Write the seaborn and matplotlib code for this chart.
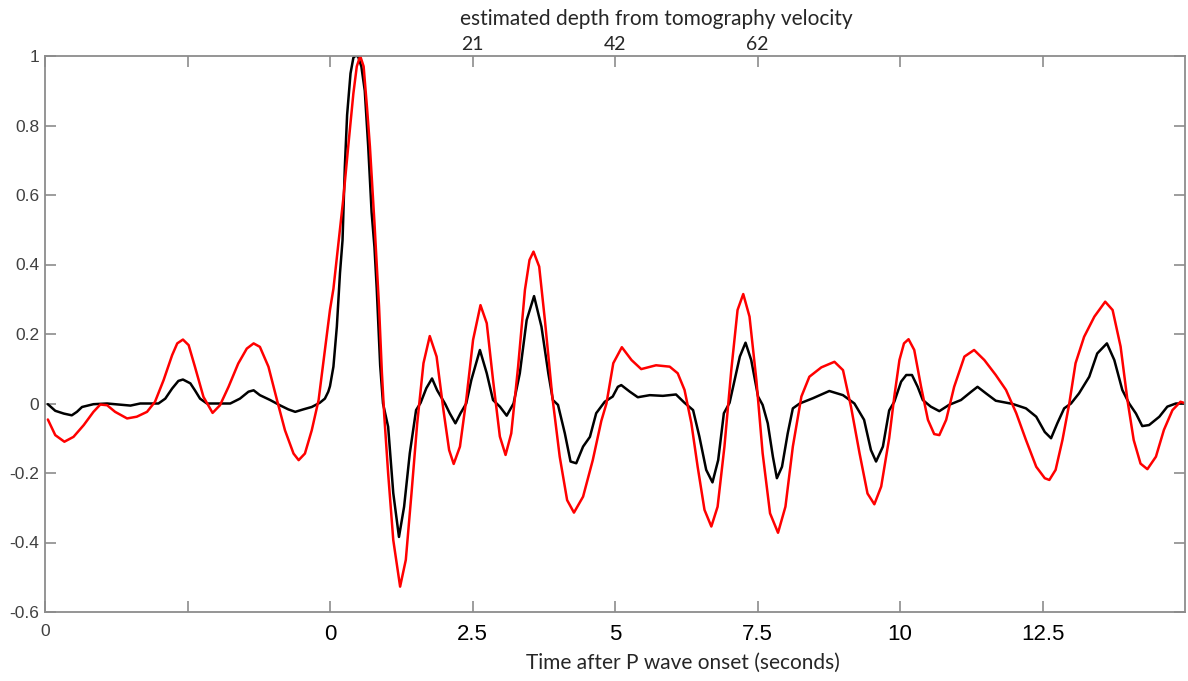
import numpy as np
import pandas as pd
import matplotlib
matplotlib.use("Agg")
import matplotlib.pyplot as plt
import seaborn as sns

# time after P onset (s) and amplitude
t_black = [-4.95, -4.82, -4.67, -4.53, -4.44, -4.35, -4.15, -3.91, -3.50, -3.33, -3.01, -2.89,
           -2.77, -2.66, -2.58, -2.45, -2.37, -2.28, -2.16, -1.75, -1.58, -1.43, -1.34, -1.23,
           -1.05, -0.88, -0.73, -0.61, -0.47, -0.32, -0.18, -0.09, -0.03, 0.0, 0.06, 0.12,
           0.175, 0.22, 0.26, 0.30, 0.36, 0.41, 0.44, 0.49, 0.55, 0.61, 0.67, 0.73, 0.78, 0.82,
           0.88, 0.93, 1.02, 1.11, 1.21, 1.30, 1.40, 1.51, 1.59, 1.69, 1.79, 1.88, 2.02, 2.10,
           2.20, 2.29, 2.39, 2.48, 2.63, 2.75, 2.86, 2.98, 3.10, 3.22, 3.33, 3.45, 3.58, 3.71,
           3.83, 3.91, 4.00, 4.12, 4.22, 4.32, 4.44, 4.56, 4.67, 4.82, 4.96, 5.05, 5.11, 5.26,
           5.40, 5.61, 5.84, 6.07, 6.22, 6.37, 6.48, 6.60, 6.71, 6.81, 6.91, 7.01, 7.10, 7.19,
           7.29, 7.39, 7.51, 7.59, 7.68, 7.77, 7.84, 7.93, 8.03, 8.12, 8.24, 8.47, 8.76, 9.00,
           9.20, 9.37, 9.49, 9.58, 9.70, 9.81, 9.90, 10.02, 10.11, 10.21, 10.31, 10.40, 10.54,
           10.69, 10.86, 11.07, 11.25, 11.36, 11.51, 11.68, 11.97, 12.21, 12.39, 12.54, 12.65,
           12.76, 12.88, 13.00, 13.14, 13.32, 13.46, 13.63, 13.76, 13.90, 14.02, 14.14, 14.25,
           14.37, 14.55, 14.69, 14.84, 14.98]
a_black = [-0.002, -0.021, -0.029, -0.034, -0.024, -0.010, -0.002, 0.0, -0.006, 0.0, 0.0, 0.014,
           0.043, 0.065, 0.069, 0.058, 0.038, 0.014, 0.0, 0.0, 0.014, 0.034, 0.038, 0.024,
           0.010, -0.005, -0.017, -0.024, -0.017, -0.010, 0.002, 0.014, 0.034, 0.05, 0.106, 0.221,
           0.375, 0.47, 0.68, 0.83, 0.95, 0.995, 1.0, 1.0, 0.97, 0.90, 0.74, 0.55, 0.45, 0.33,
           0.11, 0.0, -0.067, -0.258, -0.384, -0.297, -0.143, -0.019, 0.002, 0.044, 0.072, 0.038,
           -0.001, -0.028, -0.057, -0.028, 0.0, 0.068, 0.154, 0.087, 0.01, -0.009, -0.035, 0.0,
           0.087, 0.24, 0.309, 0.221, 0.087, 0.01, -0.004, -0.086, -0.167, -0.172, -0.124,
           -0.096, -0.028, 0.005, 0.02, 0.048, 0.053, 0.034, 0.018, 0.024, 0.022, 0.026, 0.002,
           -0.019, -0.095, -0.191, -0.227, -0.163, -0.028, 0.002, 0.068, 0.135, 0.175, 0.125,
           0.02, -0.004, -0.057, -0.153, -0.215, -0.182, -0.086, -0.014, 0.0, 0.015, 0.036,
           0.024, 0.0, -0.047, -0.134, -0.167, -0.124, -0.02, 0.005, 0.063, 0.082, 0.082, 0.048,
           0.01, -0.009, -0.022, -0.004, 0.01, 0.034, 0.048, 0.029, 0.008, -0.001, -0.014,
           -0.038, -0.082, -0.1, -0.057, -0.014, 0.0, 0.029, 0.077, 0.144, 0.173, 0.125, 0.039,
           0.0, -0.029, -0.065, -0.062, -0.038, -0.009, 0.0, 0.0]

t_red = [-4.95, -4.82, -4.66, -4.50, -4.32, -4.15, -4.03, -3.91, -3.77, -3.56, -3.39, -3.21,
         -3.07, -2.92, -2.77, -2.68, -2.58, -2.48, -2.37, -2.22, -2.06, -1.93, -1.78, -1.61,
         -1.46, -1.34, -1.23, -1.08, -0.93, -0.79, -0.64, -0.55, -0.44, -0.32, -0.20, -0.09,
         0.0, 0.06, 0.14, 0.23, 0.32, 0.41, 0.47, 0.53, 0.59, 0.65, 0.70, 0.78, 0.86, 0.91,
         0.95, 1.02, 1.11, 1.23, 1.33, 1.43, 1.53, 1.64, 1.75, 1.87, 1.99, 2.09, 2.17, 2.28,
         2.39, 2.51, 2.64, 2.75, 2.86, 2.98, 3.08, 3.18, 3.30, 3.42, 3.50, 3.57, 3.67, 3.77,
         3.90, 4.03, 4.16, 4.28, 4.44, 4.61, 4.76, 4.85, 4.97, 5.12, 5.29, 5.46, 5.72, 5.96,
         6.10, 6.22, 6.34, 6.45, 6.57, 6.69, 6.80, 6.92, 7.04, 7.15, 7.25, 7.36, 7.48, 7.59,
         7.72, 7.86, 7.99, 8.12, 8.27, 8.41, 8.62, 8.85, 9.00, 9.14, 9.29, 9.43, 9.55, 9.67,
         9.81, 9.90, 9.99, 10.07, 10.15, 10.25, 10.37, 10.49, 10.60, 10.69, 10.81, 10.95, 11.13,
         11.30, 11.48, 11.68, 11.86, 12.04, 12.21, 12.39, 12.54, 12.62, 12.73, 12.85, 12.97,
         13.08, 13.23, 13.41, 13.60, 13.73, 13.87, 13.99, 14.10, 14.22, 14.34, 14.49, 14.63,
         14.78, 14.92, 14.98]
a_red = [-0.046, -0.091, -0.110, -0.096, -0.062, -0.024, -0.003, -0.005, -0.024, -0.043, -0.038,
         -0.024, 0.005, 0.067, 0.139, 0.173, 0.184, 0.168, 0.106, 0.019, -0.027, -0.005, 0.048,
         0.115, 0.158, 0.173, 0.163, 0.106, 0.010, -0.077, -0.144, -0.163, -0.144, -0.077,
         0.010, 0.153, 0.27, 0.33, 0.45, 0.584, 0.74, 0.892, 0.97, 1.0, 0.97, 0.85, 0.74, 0.52,
         0.28, 0.09, -0.03, -0.201, -0.393, -0.527, -0.45, -0.258, -0.057, 0.116, 0.194, 0.135,
         -0.019, -0.134, -0.174, -0.124, 0.01, 0.183, 0.283, 0.231, 0.068, -0.095, -0.148,
         -0.086, 0.106, 0.327, 0.413, 0.437, 0.394, 0.24, 0.02, -0.153, -0.278, -0.314, -0.268,
         -0.163, -0.05, 0.0, 0.116, 0.162, 0.125, 0.099, 0.110, 0.106, 0.087, 0.039, -0.057,
         -0.182, -0.306, -0.354, -0.297, -0.124, 0.096, 0.269, 0.315, 0.25, 0.068, -0.143,
         -0.316, -0.372, -0.297, -0.124, 0.02, 0.077, 0.104, 0.12, 0.096, -0.009, -0.143, -0.259,
         -0.29, -0.239, -0.1, 0.02, 0.125, 0.173, 0.185, 0.154, 0.048, -0.047, -0.088, -0.091,
         -0.047, 0.048, 0.135, 0.154, 0.125, 0.082, 0.039, -0.028, -0.105, -0.182, -0.215,
         -0.22, -0.191, -0.105, 0.0, 0.116, 0.192, 0.25, 0.293, 0.269, 0.164, 0.01, -0.105,
         -0.173, -0.189, -0.153, -0.076, -0.019, 0.005, 0.002]

x_ticks = [-5, -2.5, 0, 2.5, 5, 7.5, 10, 12.5]
x_ticklabels = ["0", "", "0", "2.5", "5", "7.5", "10", "12.5"]
depth_ticklabels = ["", "", "", "21", "42", "62", "", ""]
y_ticks = [-0.6, -0.4, -0.2, 0, 0.2, 0.4, 0.6, 0.8, 1]
y_ticklabels = ["-0.6", "-0.4", "-0.2", "0", "0.2", "0.4", "0.6", "0.8", "1"]

black_df = pd.DataFrame({"t": t_black, "amp": a_black})
red_df = pd.DataFrame({"t": t_red, "amp": a_red})

sns.set_style("white")
plt.rcParams["font.family"] = ["Liberation Sans", "DejaVu Sans"]

fig = plt.figure(figsize=(11.88, 6.81), dpi=100)
ax = fig.add_axes([45 / 1188, 1 - 612 / 681, 1140 / 1188, 556 / 681])

sns.lineplot(data=black_df, x="t", y="amp", ax=ax, color="black", lw=1.8,
             sort=False, estimator=None)
sns.lineplot(data=red_df, x="t", y="amp", ax=ax, color="#ff0000", lw=1.8,
             sort=False, estimator=None)

ax.set_xlim(-5, 15)
ax.set_ylim(-0.6, 1)
spine_col = "#8c8c8c"
for s in ax.spines.values():
    s.set_color(spine_col)
    s.set_linewidth(1.3)
    s.set_visible(True)

ax.set_xticks(x_ticks)
ax.set_xticklabels(x_ticklabels, fontsize=16, color="black")
ax.set_yticks(y_ticks)
ax.set_yticklabels(y_ticklabels, fontsize=12.5, color="#404040")
ax.tick_params(axis="both", direction="in", length=8, width=1.2, color=spine_col,
               right=True, left=True, bottom=True)
ax.tick_params(axis="x", pad=9)
ax.tick_params(axis="y", pad=4)
lbl0 = ax.get_xticklabels()[0]
lbl0.set_fontsize(12.5)
lbl0.set_color("#404040")

ax.set_xlabel("Time after P wave onset (seconds)", fontsize=15, family="Lato")
ax.xaxis.set_label_coords(0.56, -0.074)
ax.set_ylabel("")

ax2 = ax.twiny()
ax2.set_xlim(ax.get_xlim())
ax2.set_xticks(x_ticks)
ax2.set_xticklabels(depth_ticklabels, fontsize=14, family="Lato")
ax2.tick_params(axis="x", direction="in", length=8, width=1.2, color=spine_col, pad=2)
for s in ax2.spines.values():
    s.set_visible(False)
ax2.set_xlabel("estimated depth from tomography velocity", fontsize=15, family="Lato")
ax2.xaxis.set_label_coords(0.536, 1.055)

fig.savefig("out.png", dpi=100)
